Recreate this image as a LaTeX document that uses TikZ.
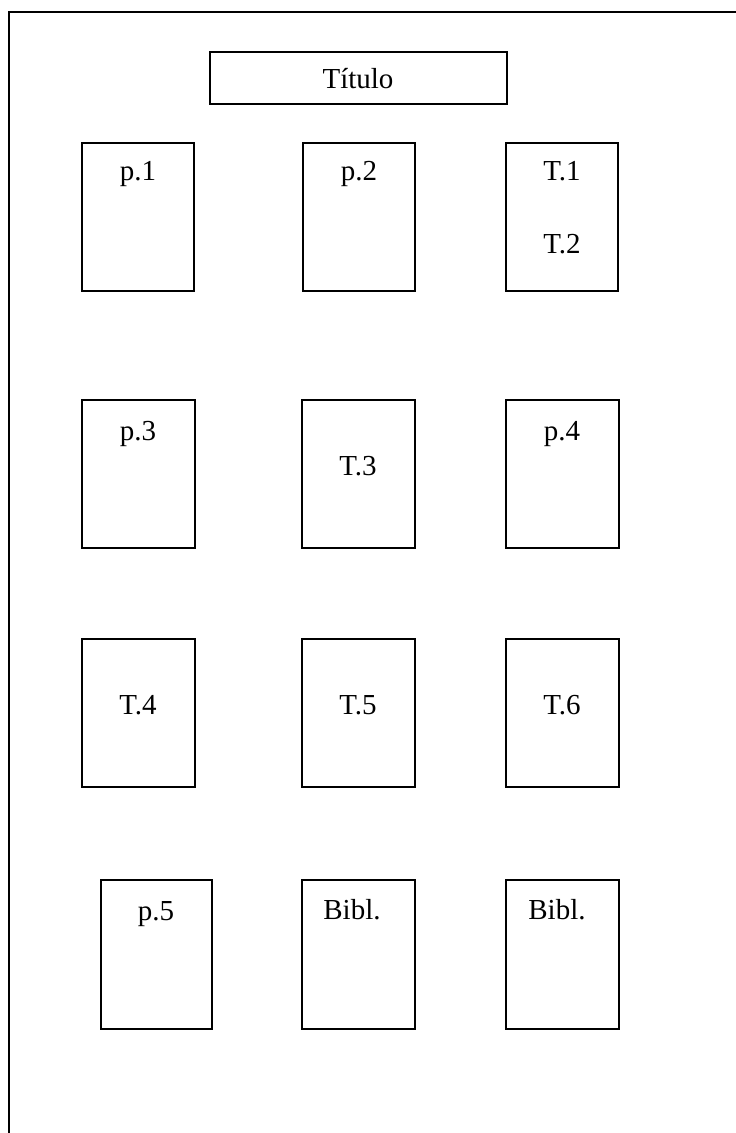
\documentclass[tikz,border=0pt]{standalone}
\usepackage{fontspec}
\setmainfont{Liberation Serif}
\begin{document}
\begin{tikzpicture}[x=1pt,y=-1pt,
  boxst/.style={draw=black,line width=1.6pt,inner sep=0pt,rectangle},
  lbl/.style={anchor=base,inner sep=0pt,font=\fontsize{29}{31}\selectfont}]
\useasboundingbox (0,0) rectangle (736,1133);
% outer frame (open at right and bottom)
\coordinate (fbl) at (9,1140);
\coordinate (ftl) at (9,12);
\coordinate (ftr) at (740,12);
\draw[line width=1.6pt] (fbl) -- (ftl) -- (ftr);
% boxes
\newcommand{\mybox}[5]{%
  \node[boxst,minimum width={#4-#2},minimum height={#5-#3}] (#1) at ({(#2+#4)/2},{(#3+#5)/2}) {};}
\mybox{title}{210}{52}{507}{104}
\mybox{p1}{82}{143}{194}{291}
\mybox{p2}{303}{143}{415}{291}
\mybox{t12}{506}{143}{618}{291}
\mybox{p3}{82}{400}{195}{548}
\mybox{t3}{302}{400}{415}{548}
\mybox{p4}{506}{400}{619}{548}
\mybox{t4}{82}{639}{195}{787}
\mybox{t5}{302}{639}{415}{787}
\mybox{t6}{506}{639}{619}{787}
\mybox{p5}{101}{880}{212}{1029}
\mybox{bib1}{302}{880}{415}{1029}
\mybox{bib2}{506}{880}{619}{1029}
% labels
\node[lbl] (ltitle) at (358,88) {Título};
\node[lbl] (lp1) at (138,180) {p.1};
\node[lbl] (lp2) at (359,180) {p.2};
\node[lbl] (lt1) at (562,180) {T.1};
\node[lbl] (lt2) at (562,253) {T.2};
\node[lbl] (lp3) at (138,440) {p.3};
\node[lbl] (lt3) at (358,475) {T.3};
\node[lbl] (lp4) at (562,440) {p.4};
\node[lbl] (lt4) at (138,714) {T.4};
\node[lbl] (lt5) at (358,714) {T.5};
\node[lbl] (lt6) at (562,714) {T.6};
\node[lbl] (lp5) at (156,920) {p.5};
\node[lbl] (lb1) at (352,919) {Bibl.};
\node[lbl] (lb2) at (557,919) {Bibl.};
\end{tikzpicture}
\end{document}
